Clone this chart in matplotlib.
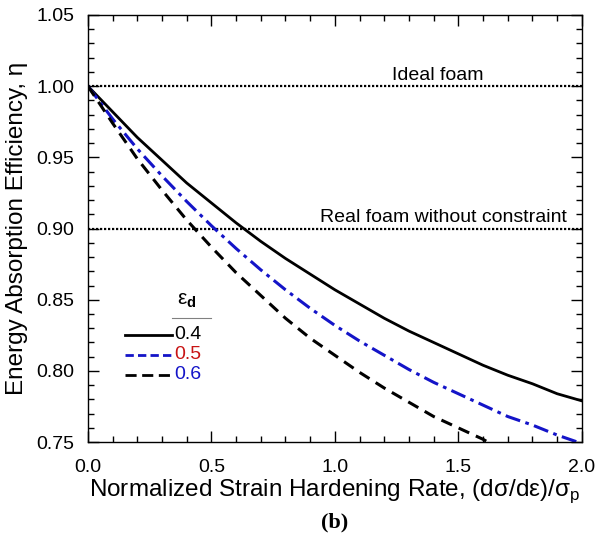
import matplotlib
matplotlib.use("Agg")
import matplotlib.pyplot as plt
from matplotlib.ticker import MultipleLocator, FormatStrFormatter

plt.rcParams['font.family'] = ['Liberation Sans', 'DejaVu Sans']
plt.rcParams['mathtext.fontset'] = 'custom'
plt.rcParams['mathtext.rm'] = 'Liberation Sans'
plt.rcParams['mathtext.bf'] = 'Liberation Sans:bold'

# data
x = [0.0, 0.1, 0.2, 0.3, 0.4, 0.5, 0.6, 0.7, 0.8, 0.9, 1.0,
     1.1, 1.2, 1.3, 1.4, 1.5, 1.6, 1.7, 1.8, 1.9, 2.0]
eta_04 = [1.000, 0.982, 0.964, 0.948, 0.932, 0.918, 0.904, 0.891, 0.879, 0.868, 0.857,
          0.847, 0.837, 0.828, 0.820, 0.812, 0.804, 0.797, 0.791, 0.784, 0.779]
eta_05 = [1.000, 0.977, 0.956, 0.937, 0.919, 0.902, 0.886, 0.871, 0.857, 0.844, 0.832,
          0.821, 0.811, 0.801, 0.792, 0.784, 0.776, 0.768, 0.762, 0.755, 0.749]
x_06 = [0.0, 0.1, 0.2, 0.3, 0.4, 0.5, 0.6, 0.7, 0.8, 0.9, 1.0,
        1.1, 1.2, 1.3, 1.4, 1.5, 1.6, 1.62]
eta_06 = [1.000, 0.974, 0.949, 0.927, 0.906, 0.887, 0.869, 0.853, 0.837, 0.823, 0.811,
          0.799, 0.788, 0.778, 0.768, 0.760, 0.752, 0.750]

ideal = 1.00
real = 0.90
blue = '#1414c8'

fig = plt.figure(figsize=(5.98, 5.34), dpi=100)
ax = fig.add_axes([0.147, 0.172, 0.826, 0.800])

ax.axhline(ideal, color='black', lw=1.6, ls=(0, (1, 0.8)))
ax.axhline(real, color='black', lw=1.6, ls=(0, (1, 0.8)))

ax.plot(x, eta_04, color='black', lw=2)
ax.plot(x, eta_05, color=blue, lw=2.2, ls=(0, (5, 1.8, 1.2, 1.8)))
ax.plot(x_06, eta_06, color='black', lw=2.2, ls=(0, (3.8, 2.4)))

ax.text(1.417, 1.0045, 'Ideal foam', fontsize=14, ha='center', va='baseline')
ax.text(1.94, 0.9045, 'Real foam without constraint', fontsize=14, ha='right', va='baseline')

# hand-made legend
ax.text(0.40, 0.843, r'ε$_\mathbf{d}$', fontsize=15, ha='center', va='bottom')
ax.plot([0.34, 0.50], [0.837, 0.837], color='gray', lw=0.8)
rows = [(0.8255, 'black', '-', '0.4', 'black'),
        (0.8115, blue, (0, (3, 1.5)), '0.5', '#c81414'),
        (0.7975, 'black', (0, (4, 2)), '0.6', blue)]
for yy, c, style, lab, tc in rows:
    ax.plot([0.15, 0.34], [yy, yy], color=c, lw=2, ls=style)
    ax.text(0.35, yy, lab, color=tc, fontsize=14, va='center', ha='left')

ax.set_xlim(0, 2.0)
ax.set_ylim(0.75, 1.05)
ax.xaxis.set_major_locator(MultipleLocator(0.5))
ax.xaxis.set_minor_locator(MultipleLocator(0.1))
ax.yaxis.set_major_locator(MultipleLocator(0.05))
ax.yaxis.set_minor_locator(MultipleLocator(0.01))
ax.xaxis.set_major_formatter(FormatStrFormatter('%.1f'))
ax.yaxis.set_major_formatter(FormatStrFormatter('%.2f'))
ax.tick_params(which='both', direction='in', top=True, right=True, labelsize=14)
ax.tick_params(which='major', length=8, width=1)
ax.tick_params(which='minor', length=4, width=1)
ax.tick_params(axis='x', pad=12)
ax.tick_params(axis='y', pad=10)
for s in ax.spines.values():
    s.set_linewidth(1)

ax.set_xlabel('Normalized Strain Hardening Rate, (dσ/dε)/σ$_\\mathregular{p}$', fontsize=17.5, labelpad=1)
ax.set_ylabel('Energy Absorption Efficiency, η', fontsize=17.5, labelpad=6)
fig.text(0.56, 0.022, '(b)', fontsize=16, fontweight='bold', family='Liberation Serif',
         ha='center', va='center')

fig.savefig('out.png', dpi=100)
